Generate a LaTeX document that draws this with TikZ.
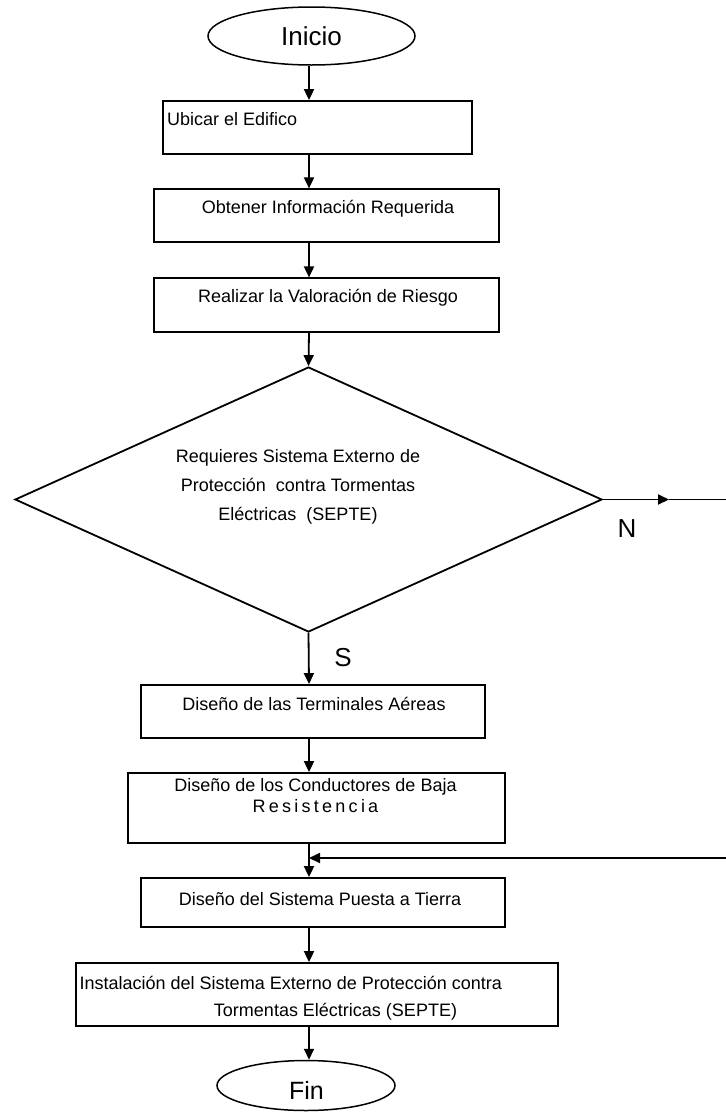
\documentclass[tikz,border=0pt]{standalone}
\usepackage{fontspec}
\setmainfont{Liberation Sans}
\usetikzlibrary{shapes.geometric,arrows.meta}
\begin{document}
\begin{tikzpicture}[x=1pt,y=-1pt,
  line/.style={line width=1.8pt},
  arr/.style={line width=1.8pt,-{Triangle[length=11pt,width=10pt]}},
  box/.style={draw,line width=1.8pt,rectangle,inner sep=0pt},
  term/.style={draw,line width=1.5pt,ellipse,inner sep=0pt},
  txt/.style={inner sep=0pt,font=\fontsize{18}{21}\selectfont},
  big/.style={inner sep=0pt,font=\fontsize{26}{30}\selectfont}]
\useasboundingbox (0,0) rectangle (726,1112);

% terminals
\node[term,big,minimum width=207pt,minimum height=58pt] (ini) at (311.5,36) {Inicio};
\node[term,minimum width=178pt,minimum height=50pt] (fin) at (306,1085.5) {};
\node[inner sep=0pt,font=\fontsize{25}{30}\selectfont,anchor=base] (tfin) at (306.5,1099) {Fin};

% boxes
\node[box,minimum width=309pt,minimum height=53pt] (b1) at (317.5,127.5) {};
\node[box,minimum width=345pt,minimum height=53pt] (b2) at (326.7,215.8) {};
\node[box,minimum width=345pt,minimum height=53.4pt] (b3) at (326.7,305) {};
\node[draw,diamond,line width=1.8pt,inner sep=0pt,minimum width=587pt,minimum height=265pt] (dec) at (308.5,499.5) {};
\node[box,minimum width=344pt,minimum height=53pt] (b4) at (313,711.5) {};
\node[box,minimum width=377pt,minimum height=70pt] (b5) at (316.5,808) {};
\node[box,minimum width=364pt,minimum height=49pt] (b6) at (323,902.5) {};
\node[box,minimum width=482pt,minimum height=63pt] (b7) at (317,994.5) {};

% texts
\node[txt,anchor=base west] (t1) at (167,125) {Ubicar el Edifico};
\node[txt,anchor=base] (t2) at (328,213) {Obtener Información Requerida};
\node[txt,anchor=base] (t3) at (328,302) {Realizar la Valoración de Riesgo};
\node[inner sep=0pt,font=\fontsize{18}{29}\selectfont,align=center,anchor=north] (tdec) at (298,449)
  {Requieres Sistema Externo de\\Protección~ contra Tormentas\\Eléctricas~ (SEPTE)};
\node[txt,anchor=base] (t4) at (314,710) {Diseño de las Terminales Aéreas};
\node[inner sep=0pt,font=\fontsize{18}{21}\selectfont,align=center,anchor=north] (t5) at (315.5,778)
  {Diseño de los Conductores de Baja\\{\spaceskip=3.25pt R e s i s t e n c i a}};
\node[txt,anchor=base] (t6) at (320,905) {Diseño del Sistema Puesta a Tierra};
\node[txt,anchor=base west] (t7a) at (79.5,989) {Instalación del Sistema Externo de Protección contra};
\node[txt,anchor=base] (t7b) at (335.5,1016) {Tormentas Eléctricas (SEPTE)};
\node[big,anchor=base] (lN) at (627,537) {N};
\node[big,anchor=base] (lS) at (343,666) {S};

% connectors
\coordinate (ax) at (309,0);
\coordinate (nmid) at (669,499.5);
\coordinate (nend) at (726,499.5);
\coordinate (fbend) at (726,858);
\coordinate (fbin) at (309,858);
\draw[arr] (ini.south -| ax) -- (b1.north -| ax);
\draw[arr] (b1.south -| ax) -- (b2.north -| ax);
\draw[arr] (b2.south -| ax) -- (b3.north -| ax);
\draw[arr] (b3.south -| ax) -- (dec.north);
\draw[arr] (dec.south) -- (b4.north -| ax);
\draw[arr] (b4.south -| ax) -- (b5.north -| ax);
\draw[arr] (b5.south -| ax) -- (b6.north -| ax);
\draw[arr] (b6.south -| ax) -- (b7.north -| ax);
\draw[arr] (b7.south -| ax) -- (fin.north -| ax);
\draw[arr] (dec.east) -- (nmid);
\draw[line] (nmid) -- (nend);
\draw[arr] (fbend) -- (fbin);
\end{tikzpicture}
\end{document}
